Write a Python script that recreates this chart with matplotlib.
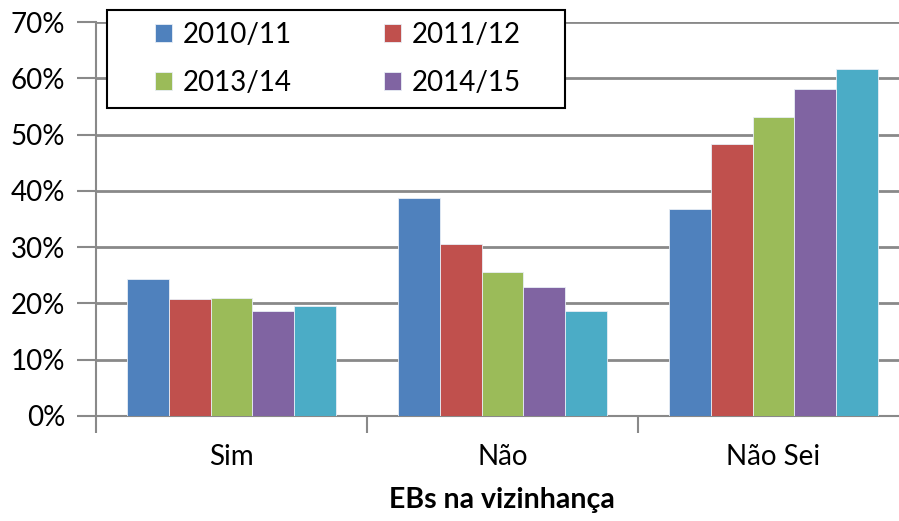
import matplotlib
matplotlib.use('agg')
import matplotlib.pyplot as plt
import numpy as np
from matplotlib.patches import Rectangle
from matplotlib.ticker import FuncFormatter

categories = ['Sim', 'Não', 'Não Sei']
years = ['2010/11', '2011/12', '2013/14', '2014/15', '2015/16']
pct_2010 = [24.3, 38.7, 36.7]
pct_2011 = [20.8, 30.6, 48.3]
pct_2013 = [21.0, 25.6, 53.1]
pct_2014 = [18.6, 23.0, 58.1]
pct_2015 = [19.5, 18.6, 61.6]
series = [pct_2010, pct_2011, pct_2013, pct_2014, pct_2015]
colors = ['#4F81BD', '#C0504D', '#9BBB59', '#8064A2', '#4BACC6']

grey = '#898989'
plt.rcParams['font.family'] = ['Lato', 'DejaVu Sans']
plt.rcParams['font.size'] = 20

W, H = 899, 521
fig = plt.figure(figsize=(W / 100, H / 100), dpi=100)
# plot area runs a little past the right edge of the canvas
ax = fig.add_axes([96 / W, 105 / H, 813 / W, 394 / H])

x = np.arange(len(categories))
w = 1 / 6.5
bars = []
for i, (vals, c, lab) in enumerate(zip(series, colors, years)):
    b = ax.bar(x + (i - 2) * w, vals, w, color=c, label=lab, zorder=3,
               edgecolor='#e8eef6', linewidth=0.6)
    bars.append(b)

ax.set_xlim(-0.5, 2.5)
ax.set_ylim(0, 70)
ax.set_yticks(range(0, 71, 10))
ax.yaxis.set_major_formatter(FuncFormatter(lambda v, p: '%d%%' % v))
ax.yaxis.grid(True, color=grey, linewidth=2, zorder=0)
ax.set_axisbelow(True)

ax.set_xticks([-0.5, 0.5, 1.5, 2.5])
ax.set_xticklabels([])
ax.set_xticks(x, minor=True)
ax.set_xticklabels(categories, minor=True)
ax.tick_params(axis='x', which='minor', length=0, pad=20)
ax.tick_params(axis='x', which='major', length=12, width=1.5, color=grey)
ax.tick_params(axis='y', length=14, width=1.5, color=grey, pad=8)

for s in ['top', 'right']:
    ax.spines[s].set_visible(False)
for s in ['left', 'bottom']:
    ax.spines[s].set_color(grey)
    ax.spines[s].set_linewidth(1.5)

fig.text(502 / W, 1 - 500 / H, 'EBs na vizinhança', ha='center', va='center',
         fontsize=20.5, fontweight='bold')

# legend box with only the first four seasons
x0, y0, x1, y1 = 107, 10, 565, 108
fig.patches.append(Rectangle((x0 / W, 1 - y1 / H), (x1 - x0) / W, (y1 - y0) / H,
                             transform=fig.transFigure, facecolor='white',
                             edgecolor='black', linewidth=1.5, zorder=5))
order = [0, 2, 1, 3]
leg = fig.legend([bars[i] for i in order], [years[i] for i in order],
                 loc='center', bbox_to_anchor=((x0 + x1) / 2 / W + 0.002, 1 - (y0 + y1) / 2 / H),
                 ncol=2, frameon=False, handlelength=0.62, handleheight=0.62,
                 handletextpad=0.4, columnspacing=3.3, labelspacing=0.8,
                 fontsize=20)
leg.set_zorder(6)

plt.savefig('out.png', dpi=100)
plt.close()
